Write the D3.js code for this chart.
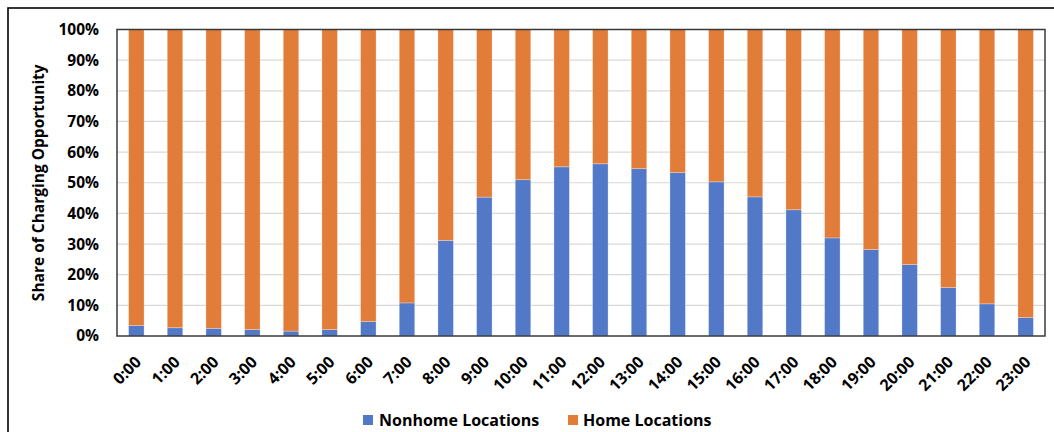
<!DOCTYPE html>
<html>
<head>
<meta charset="utf-8">
<script src="https://cdn.jsdelivr.net/npm/d3@7"></script>
<style>
  html, body { margin: 0; padding: 0; background: #fff; }
  svg { display: block; }
  text { font-family: "Open Sans", Lato, sans-serif; font-weight: bold; fill: #000; }
</style>
</head>
<body>
<svg id="chart" width="1054" height="432"></svg>
<script>
// Hour of day
const hours = ["0:00","1:00","2:00","3:00","4:00","5:00","6:00","7:00","8:00","9:00","10:00","11:00",
               "12:00","13:00","14:00","15:00","16:00","17:00","18:00","19:00","20:00","21:00","22:00","23:00"];
// Share of charging opportunity at nonhome locations (%)
const nonhome = [3.4, 2.7, 2.5, 2.1, 1.6, 2.1, 4.7, 10.8, 31.2, 45.3, 51.0, 55.2,
                 56.2, 54.6, 53.3, 50.3, 45.4, 41.2, 32.0, 28.2, 23.3, 15.8, 10.5, 6.0];
// Share at home locations (%)
const home = nonhome.map(v => 100 - v);
const seriesNames = ["Nonhome Locations", "Home Locations"];
const seriesColors = ["#5279c7", "#e27c39"];
const yTicks = [0, 10, 20, 30, 40, 50, 60, 70, 80, 90, 100];

const FONT = "'Open Sans', Lato, sans-serif";
const svg = d3.select("#chart");
const m = { left: 117, top: 29.5, right: 1045, bottom: 336 };

// Outer frame (runs off the right and bottom edges)
svg.append("rect")
  .attr("x", 8).attr("y", 8).attr("width", 1100).attr("height", 500)
  .attr("fill", "none").attr("stroke", "#000").attr("stroke-width", 1.6);

const x = d3.scaleBand().domain(hours).range([m.left, m.right]).paddingInner(0.6).paddingOuter(0.3);
const y = d3.scaleLinear().domain([0, 100]).range([m.bottom, m.top]);

// Gridlines
svg.append("g")
  .selectAll("line").data(yTicks.slice(1)).join("line")
  .attr("x1", m.left).attr("x2", m.right)
  .attr("y1", d => y(d)).attr("y2", d => y(d))
  .attr("stroke", "#d9d9d9").attr("stroke-width", 1.2);

// Stacked bars
const rows = hours.map((h, i) => ({ hour: h, nonhome: nonhome[i], home: home[i] }));
const stack = d3.stack().keys(["nonhome", "home"])(rows);
svg.append("g")
  .selectAll("g").data(stack).join("g")
  .attr("fill", (d, i) => seriesColors[i])
  .selectAll("rect").data(d => d).join("rect")
  .attr("x", d => x(d.data.hour))
  .attr("width", x.bandwidth())
  .attr("y", d => y(d[1]))
  .attr("height", d => y(d[0]) - y(d[1]))
  .attr("stroke", "#ffffff").attr("stroke-opacity", 0.35).attr("stroke-width", 0.8);

// Plot border
svg.append("rect")
  .attr("x", m.left).attr("y", m.top)
  .attr("width", m.right - m.left).attr("height", m.bottom - m.top)
  .attr("fill", "none").attr("stroke", "#3a3a3a").attr("stroke-width", 1.5);

// Y axis labels
const yAxis = d3.axisLeft(y).tickValues(yTicks).tickFormat(d => d + "%").tickSize(0).tickPadding(0);
const gy = svg.append("g").attr("transform", `translate(${99},0)`).call(yAxis);
gy.select(".domain").remove();
gy.selectAll("text").attr("font-size", 15.5).attr("font-family", FONT).attr("font-weight", "bold").attr("fill", "#000");

// X axis labels
const xAxis = d3.axisBottom(x).tickSize(0).tickPadding(0);
const gx = svg.append("g").attr("transform", `translate(0,${m.bottom})`).call(xAxis);
gx.select(".domain").remove();
gx.selectAll("text")
  .attr("font-size", 16).attr("font-family", FONT).attr("font-weight", "bold").attr("fill", "#000")
  .attr("text-anchor", "end").attr("y", 0).attr("dy", "0.35em")
  .attr("transform", "translate(2,23) rotate(-45)");

// Y axis title
svg.append("text")
  .attr("transform", `translate(44,${(m.top + m.bottom) / 2}) rotate(-90)`)
  .attr("text-anchor", "middle")
  .attr("font-size", 15.5)
  .attr("font-weight", 600)
  .text("Share of Charging Opportunity");

// Legend
const legend = svg.append("g");
const legendItems = [{ x: 363, tx: 379 }, { x: 568, tx: 583 }];
seriesNames.forEach((name, i) => {
  legend.append("rect")
    .attr("x", legendItems[i].x).attr("y", 415).attr("width", 10).attr("height", 10)
    .attr("fill", seriesColors[i]);
  legend.append("text")
    .attr("x", legendItems[i].tx).attr("y", 426)
    .attr("font-size", 16)
    .text(name);
});
</script>
</body>
</html>
